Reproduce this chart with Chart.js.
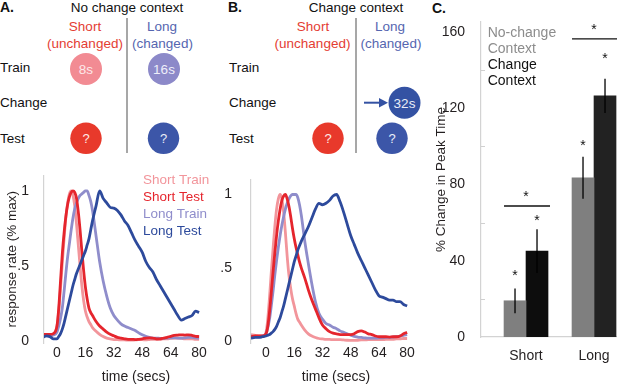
<!DOCTYPE html>
<html>
<head>
<meta charset="utf-8">
<script src="https://cdn.jsdelivr.net/npm/chart.js@4.4.1/dist/chart.umd.min.js"></script>
<style>
html,body{margin:0;padding:0;background:#fff;width:617px;height:386px;overflow:hidden;position:relative;font-family:"Liberation Sans",Arial,sans-serif;}
canvas{position:absolute;}
#cA{left:0;top:160px;}
#cB{left:210px;top:160px;}
#cC{left:420px;top:0;}
svg{position:absolute;left:0;top:0;}
</style>
</head>
<body>
<svg width="617" height="160" font-family="Liberation Sans, Arial, sans-serif" font-size="13.5">
  <!-- Panel A diagram -->
  <text x="0" y="12" font-weight="bold" font-size="14" fill="#111">A.</text>
  <text x="127" y="12" text-anchor="middle" fill="#111">No change context</text>
  <line x1="127" y1="18" x2="127" y2="153" stroke="#8a8a8a" stroke-width="1.5"/>
  <text x="85" y="31" text-anchor="middle" fill="#e43d33">Short</text>
  <text x="85" y="47.5" text-anchor="middle" fill="#e43d33">(unchanged)</text>
  <text x="162" y="31" text-anchor="middle" fill="#5566b0">Long</text>
  <text x="162.5" y="47.5" text-anchor="middle" fill="#5566b0">(changed)</text>
  <text x="0" y="72" fill="#111">Train</text>
  <text x="0" y="106.5" fill="#111">Change</text>
  <text x="0" y="143" fill="#111">Test</text>
  <circle cx="86" cy="69" r="16" fill="#f28b93"/>
  <text x="86" y="74" text-anchor="middle" fill="#fde8ea">8s</text>
  <circle cx="164" cy="69" r="16" fill="#8c89c9"/>
  <text x="164" y="74" text-anchor="middle" fill="#eeeefa">16s</text>
  <circle cx="86" cy="138.3" r="15.7" fill="#e8392b"/>
  <text x="86" y="143" text-anchor="middle" fill="#ffe9e6" font-size="13">?</text>
  <circle cx="163.5" cy="138.3" r="15.7" fill="#3c56a8"/>
  <text x="163.5" y="143" text-anchor="middle" fill="#e9edf8" font-size="13">?</text>
  <!-- Panel B diagram -->
  <text x="228" y="12" font-weight="bold" font-size="14" fill="#111">B.</text>
  <text x="356" y="12" text-anchor="middle" fill="#111">Change context</text>
  <line x1="356" y1="18" x2="356" y2="153" stroke="#8a8a8a" stroke-width="1.5"/>
  <text x="313" y="31" text-anchor="middle" fill="#e43d33">Short</text>
  <text x="312.5" y="47.5" text-anchor="middle" fill="#e43d33">(unchanged)</text>
  <text x="390" y="31" text-anchor="middle" fill="#5566b0">Long</text>
  <text x="391" y="47.5" text-anchor="middle" fill="#5566b0">(changed)</text>
  <text x="229" y="72" fill="#111">Train</text>
  <text x="229" y="106.5" fill="#111">Change</text>
  <text x="229" y="143" fill="#111">Test</text>
  <line x1="364" y1="102.7" x2="380" y2="102.7" stroke="#3452a3" stroke-width="2"/>
  <polygon points="379,98 388,102.7 379,107.4" fill="#3452a3"/>
  <circle cx="404.5" cy="102.8" r="16" fill="#3452a3"/>
  <text x="404.5" y="107.5" text-anchor="middle" fill="#e9edf8">32s</text>
  <circle cx="328" cy="138.3" r="15.7" fill="#e8392b"/>
  <text x="328" y="143" text-anchor="middle" fill="#ffe9e6" font-size="13">?</text>
  <circle cx="392" cy="138.3" r="15.7" fill="#3c56a8"/>
  <text x="392" y="143" text-anchor="middle" fill="#e9edf8" font-size="13">?</text>
  <!-- Panel C label -->
  <text x="432" y="13" font-weight="bold" font-size="14" fill="#111">C.</text>
</svg>
<canvas id="cA" width="210" height="226"></canvas>
<canvas id="cB" width="210" height="226"></canvas>
<canvas id="cC" width="197" height="386"></canvas>
<script>
// ---------- DATA ----------
const timeSecs = [-8.5,-6,-4,-2,
  0,1,2,3,4,5,6,7,8,9,10,11,12,13,14,15,16,17,18,19,20,
  22,24,26,28,30,32,34,36,38,40,42,44,46,48,50,52,54,56,58,60,62,64,66,68,70,72,74,76,78,80];

const seriesNames = ['Short Train','Short Test','Long Train','Long Test'];

// Panel A: No change context
const noChangeShortTrain = [0.04,0.04,0.04,0.045,
  0.10,0.2,0.35,0.52,0.68,0.82,0.92,0.98,1.0,0.97,0.9,0.78,0.64,0.5,0.37,0.27,0.2,0.16,0.13,0.11,0.09,
  0.065,0.045,0.03,0.02,0.015,0.01,0.01,0.008,0.008,0.006,0.006,0.008,0.01,0.01,0.008,0.01,0.012,0.01,0.012,0.015,0.015,0.018,0.02,0.02,0.018,0.015,0.015,0.015,0.012,0.012];
const noChangeShortTest = [0.045,0.045,0.045,0.05,
  0.1,0.22,0.4,0.58,0.72,0.83,0.91,0.96,0.99,1.0,0.99,0.95,0.86,0.74,0.6,0.47,0.36,0.28,0.22,0.19,0.17,
  0.13,0.1,0.08,0.06,0.045,0.035,0.025,0.02,0.015,0.012,0.012,0.01,0.012,0.015,0.02,0.022,0.02,0.015,0.015,0.02,0.025,0.032,0.038,0.04,0.042,0.04,0.042,0.038,0.032,0.03];
const noChangeLongTrain = [0.035,0.035,0.035,0.04,
  0.06,0.1,0.15,0.22,0.33,0.45,0.56,0.65,0.74,0.82,0.88,0.92,0.95,0.97,0.98,0.99,1.0,1.0,0.97,0.93,0.87,
  0.7,0.53,0.4,0.3,0.22,0.17,0.14,0.115,0.1,0.09,0.08,0.07,0.055,0.042,0.032,0.025,0.02,0.02,0.018,0.018,0.02,0.022,0.022,0.02,0.02,0.022,0.025,0.025,0.022,0.02];
const noChangeLongTest = [0.02,0.035,0.03,0.015,
  0.015,0.03,0.05,0.08,0.12,0.17,0.22,0.27,0.32,0.37,0.41,0.45,0.48,0.51,0.54,0.57,0.6,0.64,0.68,0.74,0.8,
  0.9,1.0,0.95,0.92,0.89,0.885,0.87,0.84,0.8,0.77,0.72,0.67,0.63,0.59,0.53,0.49,0.46,0.41,0.37,0.33,0.29,0.25,0.21,0.17,0.14,0.15,0.16,0.17,0.2,0.19];

// Panel B: Change context
const changeShortTrain = [0.045,0.04,0.035,0.035,
  0.06,0.15,0.3,0.47,0.63,0.78,0.9,0.97,1.0,0.97,0.88,0.74,0.58,0.45,0.36,0.29,0.24,0.19,0.15,0.13,0.11,
  0.075,0.05,0.035,0.025,0.018,0.015,0.012,0.012,0.01,0.01,0.01,0.008,0.006,0.005,0.005,0.006,0.008,0.008,0.01,0.01,0.01,0.01,0.01,0.012,0.012,0.012,0.015,0.015,0.018,0.018];
const changeShortTest = [0.03,0.035,0.035,0.035,
  0.05,0.1,0.2,0.33,0.47,0.6,0.72,0.82,0.9,0.96,0.99,1.0,0.97,0.92,0.85,0.77,0.7,0.64,0.59,0.54,0.5,
  0.43,0.35,0.28,0.22,0.16,0.11,0.085,0.065,0.055,0.05,0.045,0.045,0.045,0.045,0.05,0.065,0.07,0.062,0.05,0.045,0.035,0.03,0.03,0.03,0.028,0.03,0.03,0.035,0.05,0.06];
const changeLongTrain = [0.035,0.03,0.03,0.035,
  0.05,0.09,0.15,0.24,0.34,0.45,0.55,0.64,0.72,0.79,0.85,0.9,0.94,0.97,0.99,1.0,1.0,1.0,0.98,0.93,0.86,
  0.68,0.53,0.39,0.27,0.19,0.15,0.12,0.11,0.095,0.085,0.07,0.06,0.05,0.04,0.032,0.028,0.025,0.022,0.02,0.02,0.02,0.022,0.022,0.025,0.025,0.028,0.03,0.035,0.04,0.045];
const changeLongTest = [0.02,0.025,0.025,0.03,
  0.035,0.04,0.045,0.055,0.065,0.08,0.1,0.13,0.16,0.2,0.24,0.29,0.34,0.39,0.44,0.49,0.54,0.58,0.62,0.65,0.68,
  0.73,0.78,0.84,0.9,0.94,0.93,0.94,0.96,0.99,1.0,0.95,0.88,0.8,0.72,0.66,0.6,0.55,0.5,0.45,0.4,0.35,0.31,0.3,0.29,0.28,0.28,0.27,0.27,0.25,0.24];

const lineYTickValues = [0, 0.5, 1];
const lineYTickLabels = ['0', '.5', '1'];
const lineXTickValues = [0, 16, 32, 48, 64, 80];

// Panel C: % change in peak time
const barCategories = ['Short', 'Long'];
const barSeriesNames = ['No-change Context', 'Change Context'];
const noChangePeakShift = [19, 83.5];
const noChangePeakErr = [6.5, 11];
const changePeakShift = [45, 126.5];
const changePeakErr = [11.5, 9];
const barYTickValues = [0, 40, 80, 120, 160];
const barYMinorTicks = [20, 60, 100, 140];
// significance markers (data units)
const noChangeStarLevels = [34, 102.3];
const changeStarLevels = [62.9, 148];
const bracketLevels = [68.7, 156.3];
const bracketStarLevels = [75.5, 163.1];

// ---------- STYLE ----------
const FONT = '"Liberation Sans", Arial, sans-serif';
const TXT = '#231f20';
const lineColors = ['#f2959b', '#e5252d', '#8f8dcb', '#2d4a9c'];
const lineOrder = [3, 1, 2, 0];
Chart.defaults.font.family = FONT;
Chart.defaults.color = TXT;
Chart.defaults.animation = false;

const lineDecor = {
  id: 'lineDecor',
  afterDraw(chart, args, opts) {
    const ctx = chart.ctx;
    ctx.save();
    ctx.font = '14px ' + FONT;
    ctx.fillStyle = TXT;
    ctx.textAlign = 'center';
    ctx.textBaseline = 'alphabetic';
    ctx.fillText(opts.xTitle, opts.xTitleX, opts.xTitleY);
    if (opts.legend) {
      ctx.textAlign = 'left';
      ctx.font = '13.5px ' + FONT;
      chart.data.datasets.forEach((ds, i) => {
        ctx.fillStyle = ds.borderColor;
        ctx.fillText(ds.label, opts.legendX, opts.legendY + i * opts.legendGap);
      });
    }
    ctx.restore();
  }
};

function makeLineChart(id, series, opts) {
  const datasets = series.map((vals, i) => ({
    label: seriesNames[i],
    data: timeSecs.map((t, k) => ({x: t, y: vals[k]})),
    borderColor: lineColors[i],
    backgroundColor: lineColors[i],
    borderWidth: 2.8,
    pointRadius: 0,
    cubicInterpolationMode: 'monotone',
    order: lineOrder[i]
  }));
  return new Chart(document.getElementById(id), {
    type: 'line',
    data: {datasets},
    plugins: [lineDecor],
    options: {
      responsive: false,
      layout: {padding: {top: 7, right: opts.padRight, left: 0, bottom: 0}},
      plugins: {
        legend: {display: false},
        tooltip: {enabled: false},
        lineDecor: opts.decor
      },
      scales: {
        x: {
          type: 'linear', min: opts.xMin, max: 80.5,
          afterBuildTicks: s => { s.ticks = lineXTickValues.map(v => ({value: v})); },
          afterFit: s => { s.height = 43; },
          grid: {display: false},
          border: {display: false},
          ticks: {font: {size: 14}, color: TXT, padding: -6, maxRotation: 0, autoSkip: false}
        },
        y: {
          min: -0.0127, max: 1.103,
          afterBuildTicks: s => { s.ticks = lineYTickValues.map(v => ({value: v})); },
          afterFit: s => { s.width = opts.yWidth; },
          grid: {display: false},
          border: {display: true, color: '#d3d3d3', width: 1.2},
          ticks: {font: {size: 14}, color: TXT, padding: opts.yPad,
            callback: v => lineYTickLabels[lineYTickValues.indexOf(v)]},
          title: {display: opts.yTitle, text: 'response rate (% max)', font: {size: 13.5}, color: TXT, padding: {top: 4, bottom: 0}}
        }
      }
    }
  });
}

makeLineChart('cA', [noChangeShortTrain, noChangeShortTest, noChangeLongTrain, noChangeLongTest], {
  xMin: -7.3, padRight: 10, yWidth: 44, yPad: 7, yTitle: true,
  decor: {xTitle: 'time (secs)', xTitleX: 136, xTitleY: 221, legend: true, legendX: 143, legendY: 24, legendGap: 17}
});
makeLineChart('cB', [changeShortTrain, changeShortTest, changeLongTrain, changeLongTest], {
  xMin: -8.5, padRight: 12, yWidth: 41, yPad: 11, yTitle: false,
  decor: {xTitle: 'time (secs)', xTitleX: 126, xTitleY: 221, legend: false}
});

// ---------- BAR CHART ----------
const barDecor = {
  id: 'barDecor',
  afterDatasetsDraw(chart) {
    const {ctx, chartArea} = chart;
    const y = chart.scales.y;
    ctx.save();
    ctx.strokeStyle = '#d0d0d0'; ctx.lineWidth = 1;
    barYMinorTicks.forEach(v => {
      const py = Math.round(y.getPixelForValue(v)) + 0.5;
      ctx.beginPath(); ctx.moveTo(chartArea.left, py); ctx.lineTo(chartArea.left + 4, py); ctx.stroke();
    });
    const star = (x, v) => {
      ctx.fillStyle = '#111';
      ctx.font = '14px ' + FONT;
      ctx.textAlign = 'center';
      ctx.textBaseline = 'alphabetic';
      ctx.fillText('*', x, y.getPixelForValue(v) + 8);
    };
    const metas = chart.data.datasets.map((ds, di) => chart.getDatasetMeta(di));
    chart.data.datasets.forEach((ds, di) => {
      metas[di].data.forEach((bar, i) => {
        const v = ds.data[i].y, e = ds.errors[i];
        ctx.strokeStyle = '#000'; ctx.lineWidth = 1.3;
        ctx.beginPath();
        ctx.moveTo(bar.x, y.getPixelForValue(v + e));
        ctx.lineTo(bar.x, y.getPixelForValue(v - e));
        ctx.stroke();
        star(bar.x, ds.stars[i]);
      });
    });
    barCategories.forEach((c, i) => {
      const b0 = metas[0].data[i], b1 = metas[1].data[i];
      const x0 = b0.x - b0.width / 2, x1 = b1.x + b1.width / 2;
      const py = y.getPixelForValue(bracketLevels[i]);
      ctx.strokeStyle = '#111'; ctx.lineWidth = 1.3;
      ctx.beginPath(); ctx.moveTo(x0, py); ctx.lineTo(x1 + 2, py); ctx.stroke();
      star((x0 + x1) / 2, bracketStarLevels[i]);
    });
    ctx.font = '14px ' + FONT;
    ctx.textAlign = 'left';
    ctx.textBaseline = 'alphabetic';
    let ly = 37;
    chart.data.datasets.forEach(ds => {
      ctx.fillStyle = ds.legendColor;
      ds.label.split(' ').forEach(word => { ctx.fillText(word, 67.7, ly); ly += 16; });
    });
    ctx.restore();
  }
};

new Chart(document.getElementById('cC'), {
  type: 'bar',
  data: {
    datasets: [
      {label: barSeriesNames[0], data: barCategories.map((c, i) => ({x: i + 1, y: noChangePeakShift[i]})),
       errors: noChangePeakErr, stars: noChangeStarLevels,
       backgroundColor: '#7f7f7f', legendColor: '#8c8c8c', barThickness: 22, borderWidth: 0},
      {label: barSeriesNames[1], data: barCategories.map((c, i) => ({x: i + 1, y: changePeakShift[i]})),
       errors: changePeakErr, stars: changeStarLevels,
       backgroundColor: ['#0d0d0d', '#222222'], legendColor: '#111', barThickness: 22, borderWidth: 0}
    ]
  },
  plugins: [barDecor],
  options: {
    responsive: false,
    layout: {padding: {top: 22, right: 0, left: 0, bottom: 0}},
    plugins: {legend: {display: false}, tooltip: {enabled: false}},
    scales: {
      x: {
        type: 'linear', min: 0.338, max: 2.338, offset: false,
        afterBuildTicks: s => { s.ticks = barCategories.map((c, i) => ({value: i + 1})); },
        afterFit: s => { s.height = 49; },
        grid: {display: false},
        border: {display: true, color: '#d3d3d3', width: 1.2},
        ticks: {font: {size: 14}, color: TXT, padding: 3, maxRotation: 0, autoSkip: false,
          callback: v => barCategories[v - 1]}
      },
      y: {
        min: 0, max: 165.2,
        afterBuildTicks: s => { s.ticks = barYTickValues.map(v => ({value: v})); },
        afterFit: s => { s.width = 61; },
        grid: {display: false},
        border: {display: true, color: '#d3d3d3', width: 1.2},
        ticks: {font: {size: 14}, color: TXT, padding: 8},
        title: {display: true, text: '% Change in Peak Time', font: {size: 13.5}, color: TXT, padding: {top: 13, bottom: 0}}
      }
    }
  }
});
</script>
</body>
</html>
